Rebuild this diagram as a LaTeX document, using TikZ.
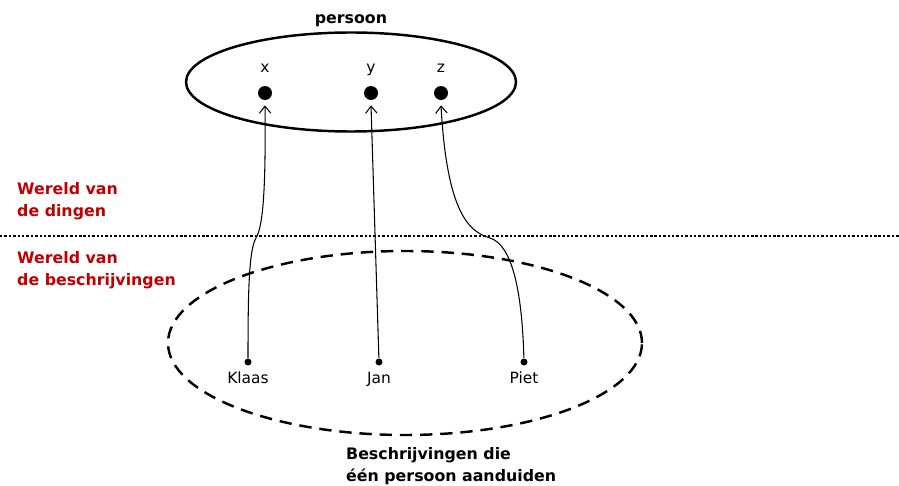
\documentclass[tikz,border=0pt]{standalone}
\usepackage{fontspec}
\setmainfont{DejaVu Sans}
\usetikzlibrary{shapes.geometric,arrows.meta}
\definecolor{wereldred}{HTML}{C00000}

\tikzset{
  bigdot/.style={shape=circle,fill=black,inner sep=0pt,minimum size=0.28cm},
  smalldot/.style={shape=circle,fill=black,inner sep=0pt,minimum size=0.14cm},
  lbl/.style={font=\fontsize{8.8}{10}\selectfont,anchor=base},
  hdr/.style={font=\fontsize{9}{12.4}\selectfont\bfseries,align=left,anchor=west},
  wereld/.style={hdr,text=wereldred},
  link/.style={-{Straight Barb[length=4pt,width=6.5pt]},line width=0.6pt}
}

\begin{document}
\begin{tikzpicture}[x=0.02cm,y=-0.02cm]
                \useasboundingbox (0,0) rectangle (899,486);

                % wereld van de dingen
                \node[ellipse,draw=black,line width=1.4pt,minimum width=330*0.02cm,minimum height=99*0.02cm] (pers) at (351,82) {};
                \node[font=\fontsize{9}{10}\selectfont\bfseries,anchor=base] (perslbl) at (351,24) {persoon};

                \node[bigdot] (x) at (265,93) {};
                \node[bigdot] (y) at (371,93) {};
                \node[bigdot] (z) at (441,93) {};
                \node[lbl] (xl) at (265,73) {x};
                \node[lbl] (yl) at (371,73) {y};
                \node[lbl] (zl) at (441,73) {z};

                % scheiding
                \draw[line width=1.4pt,dash pattern=on 1.4pt off 1.1pt] (0,236) -- (899,236);

                \node[wereld] (dingen) at (11,201) {Wereld van\\de dingen};
                \node[wereld] (beschr) at (11,270) {Wereld van\\de beschrijvingen};

                % wereld van de beschrijvingen
                \node[ellipse,draw=black,line width=1.4pt,dash pattern=on 7pt off 4.5pt,minimum width=474*0.02cm,minimum height=184*0.02cm] (besch) at (405,343) {};

                \node[smalldot] (klaas) at (248,362) {};
                \node[smalldot] (jan) at (379,362) {};
                \node[smalldot] (piet) at (524,362) {};
                \node[lbl] (klaasl) at (248,383) {Klaas};
                \node[lbl] (janl) at (379,383) {Jan};
                \node[lbl] (pietl) at (524,383) {Piet};

                \node[hdr] (onder) at (340,466) {Beschrijvingen die\\één persoon aanduiden};

                % verwijzingen
                \draw[link] (klaas) .. controls (248,290) and (249,250) .. (256,238)
                            .. controls (262,228) and (266,200) .. ([yshift=-0.1cm]x.south);
                \draw[link] (jan) -- ([yshift=-0.1cm]y.south);
                \draw[link] (piet) .. controls (522,290) and (512,245) .. (490,238)
                            .. controls (470,232) and (447,215) .. ([yshift=-0.1cm]z.south);

            \end{tikzpicture}
\end{document}
